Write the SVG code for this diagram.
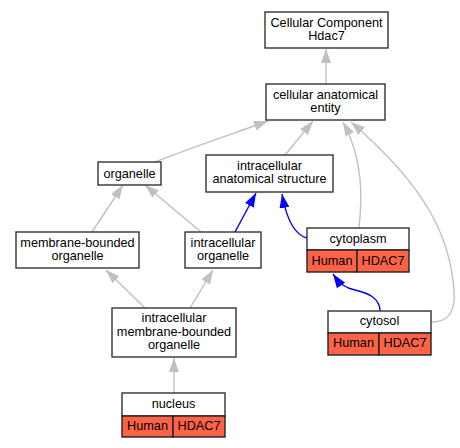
<svg xmlns="http://www.w3.org/2000/svg" width="460" height="448" viewBox="0 0 460 448">
<style>
.box{fill:#fff;stroke:#333;stroke-width:1.4}
.red{fill:#fd6347;stroke:#222;stroke-width:1.4}
text{font-family:"Liberation Sans",Arial,sans-serif;font-size:12.7px;fill:#000;text-anchor:middle}
.g{fill:none;stroke:#c0c0c0;stroke-width:1.4}
.b{fill:none;stroke:#0000ff;stroke-width:1.4}
</style>
<defs>
<marker id="ag" viewBox="0 0 14 10" refX="14" refY="5" markerWidth="14" markerHeight="10" markerUnits="userSpaceOnUse" orient="auto"><path d="M0,0 L14,5 L0,10 z" fill="#c0c0c0"/></marker>
<marker id="ab" viewBox="0 0 14 10" refX="14" refY="5" markerWidth="14" markerHeight="10" markerUnits="userSpaceOnUse" orient="auto"><path d="M0,0 L14,5 L0,10 z" fill="#0000ff"/></marker>
</defs>
<rect width="460" height="448" fill="#fff"/>
<g id="edges">
<path class="g" marker-end="url(#ag)" d="M326,84 L326,49"/>
<path class="g" marker-end="url(#ag)" d="M155,162 C190,148 235,133 268,121"/>
<path class="g" marker-end="url(#ag)" d="M285,155 L313,121"/>
<path class="g" marker-end="url(#ag)" d="M359,228 C362,200 364,160 343,122"/>
<path class="g" marker-end="url(#ag)" d="M431,322 C446,322 456,315 454,290 C450,240 430,190 351,122"/>
<path class="g" marker-end="url(#ag)" d="M92,232 L123,185"/>
<path class="g" marker-end="url(#ag)" d="M201,232 L145,185"/>
<path class="b" marker-end="url(#ab)" d="M235,232 L256,193"/>
<path class="b" marker-end="url(#ab)" d="M307,238 C295,235 287,222 282,194"/>
<path class="b" marker-end="url(#ab)" d="M380,311 C380,298 368,293 355,290 C345,288 340,284 333,274"/>
<path class="g" marker-end="url(#ag)" d="M145,308 L106,270"/>
<path class="g" marker-end="url(#ag)" d="M190,308 L213,270"/>
<path class="g" marker-end="url(#ag)" d="M174,393 L174,358"/>
</g>
<g id="cc">
<rect class="box" x="265" y="12" width="123" height="36"/>
<text x="326.5" y="26.5">Cellular Component</text>
<text x="326.5" y="40">Hdac7</text>
</g>
<g id="cae">
<rect class="box" x="266" y="84" width="119" height="36"/>
<text x="325.5" y="98.5">cellular anatomical</text>
<text x="325.5" y="112">entity</text>
</g>
<g id="organelle">
<rect class="box" x="98" y="162" width="63" height="23"/>
<text x="129.5" y="177.5">organelle</text>
</g>
<g id="ias">
<rect class="box" x="206" y="155" width="127" height="37"/>
<text x="269.5" y="169.5">intracellular</text>
<text x="269.5" y="183">anatomical structure</text>
</g>
<g id="mbo">
<rect class="box" x="16" y="232" width="123" height="36"/>
<text x="77.5" y="246.5">membrane-bounded</text>
<text x="77.5" y="260">organelle</text>
</g>
<g id="io">
<rect class="box" x="185" y="232" width="76" height="36"/>
<text x="223" y="246.5">intracellular</text>
<text x="223" y="260">organelle</text>
</g>
<g id="cytoplasm">
<rect class="box" x="307" y="228" width="102" height="22"/>
<text x="358" y="242.5">cytoplasm</text>
<rect class="red" x="307" y="250" width="50" height="22"/>
<rect class="red" x="357" y="250" width="52" height="22"/>
<text x="332" y="264.5">Human</text>
<text x="383" y="264.5">HDAC7</text>
</g>
<g id="imbo">
<rect class="box" x="112" y="308" width="124" height="49"/>
<text x="174" y="322">intracellular</text>
<text x="174" y="335.5">membrane-bounded</text>
<text x="174" y="349">organelle</text>
</g>
<g id="cytosol">
<rect class="box" x="328" y="311" width="103" height="22"/>
<text x="379.5" y="325">cytosol</text>
<rect class="red" x="328" y="333" width="51" height="22"/>
<rect class="red" x="379" y="333" width="52" height="22"/>
<text x="353.5" y="347">Human</text>
<text x="405" y="347">HDAC7</text>
</g>
<g id="nucleus">
<rect class="box" x="122" y="393" width="103" height="23"/>
<text x="173.5" y="407.5">nucleus</text>
<rect class="red" x="122" y="416" width="51" height="21"/>
<rect class="red" x="173" y="416" width="52" height="21"/>
<text x="147.5" y="429.5">Human</text>
<text x="199" y="429.5">HDAC7</text>
</g>
</svg>
